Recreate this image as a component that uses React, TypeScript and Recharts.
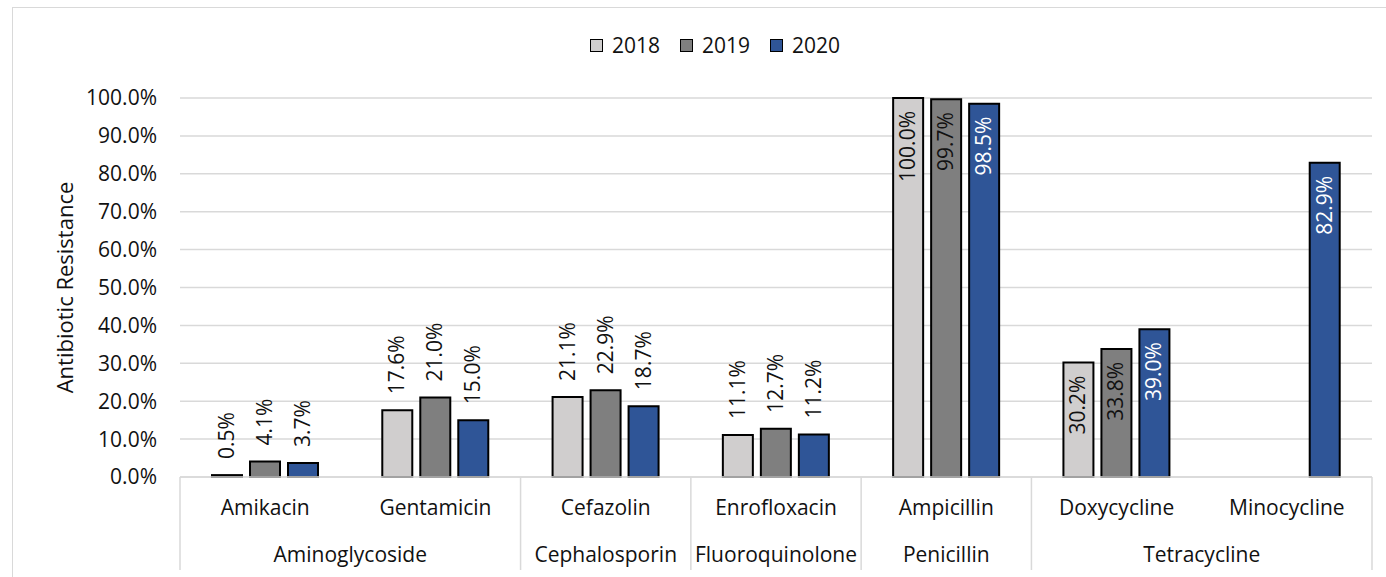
import React from 'react';
import { BarChart, Bar, XAxis, YAxis, CartesianGrid, Legend, LabelList } from 'recharts';

const drugs = ['Amikacin', 'Gentamicin', 'Cefazolin', 'Enrofloxacin', 'Ampicillin', 'Doxycycline', 'Minocycline'];
const classes = ['Aminoglycoside', 'Aminoglycoside', 'Cephalosporin', 'Fluoroquinolone', 'Penicillin', 'Tetracycline', 'Tetracycline'];
const y2018: (number | null)[] = [0.5, 17.6, 21.1, 11.1, 100.0, 30.2, null];
const y2019: (number | null)[] = [4.1, 21.0, 22.9, 12.7, 99.7, 33.8, null];
const y2020: (number | null)[] = [3.7, 15.0, 18.7, 11.2, 98.5, 39.0, 82.9];
const yTicks = [0, 10, 20, 30, 40, 50, 60, 70, 80, 90, 100];
const seriesNames = ['2018', '2019', '2020'];
const seriesColors = ['#D0CECE', '#7F7F7F', '#2F5597'];

const data = drugs.map((d, i) => ({ drug: d, cls: classes[i], y2018: y2018[i], y2019: y2019[i], y2020: y2020[i] }));

const FONT = '"Open Sans", sans-serif';
const FS = 21;
const CHART_W = 1386;
const CHART_H = 577;
const MARGIN = { top: 68, right: 14, bottom: 0, left: 12 };
const Y_W = 168;
const PLOT_W = CHART_W - MARGIN.left - MARGIN.right - Y_W;
const BAND = PLOT_W / drugs.length;
const GRID = '#D9D9D9';

const CategoryTick = (props: any) => {
  const { x, y, payload } = props;
  const i: number = payload.index;
  const half = BAND / 2;
  const left = x - half;
  const right = x + half;
  const cls = classes[i];
  const isFirst = i === 0 || classes[i - 1] !== cls;
  const isLast = i === classes.length - 1 || classes[i + 1] !== cls;
  const count = classes.filter((c) => c === cls).length;
  return (
    <g>
      <text x={x} y={y + 38} textAnchor="middle" fontFamily={FONT} fontSize={FS} fill="#111">{payload.value}</text>
      {i === 0 && <line x1={left} x2={left} y1={y} y2={y + 93} stroke={GRID} strokeWidth={1.5} />}
      {isLast && <line x1={right} x2={right} y1={y} y2={y + 93} stroke={GRID} strokeWidth={1.5} />}
      {isFirst && (
        <text x={left + (count * BAND) / 2} y={y + 85} textAnchor="middle" fontFamily={FONT} fontSize={FS} fill="#111">{cls}</text>
      )}
    </g>
  );
};

const makeLabel = (insideColor: string) => (props: any) => {
  const { x, y, width, value } = props;
  if (value === null || value === undefined) return null;
  const cx = x + width / 2 + 7;
  const txt = `${Number(value).toFixed(1)}%`;
  const inside = value >= 30;
  const ty = inside ? y + 13 : y - 16;
  return (
    <text
      x={cx}
      y={ty}
      transform={`rotate(-90 ${cx} ${ty})`}
      textAnchor={inside ? 'end' : 'start'}
      fontFamily={FONT}
      fontSize={FS}
      fill={inside ? insideColor : '#111'}
    >
      {txt}
    </text>
  );
};

const LegendContent = () => (
  <div style={{ display: 'flex', justifyContent: 'center', alignItems: 'center', height: 30, fontFamily: FONT, fontSize: FS, color: '#111', paddingLeft: 64 }}>
    {seriesNames.map((n, i) => (
      <div key={n} style={{ display: 'flex', alignItems: 'center', marginRight: 20 }}>
        <span style={{ display: 'inline-block', width: 11, height: 11, background: seriesColors[i], border: '1.5px solid #000', marginRight: 9 }} />
        <span>{n}</span>
      </div>
    ))}
  </div>
);

const YLabel = (props: any) => {
  const { viewBox } = props;
  const cx = 64;
  const cy = viewBox.y + viewBox.height / 2;
  return (
    <text x={cx} y={cy} transform={`rotate(-90 ${cx} ${cy})`} textAnchor="middle" dominantBaseline="central" fontFamily={FONT} fontSize={22} fill="#111">
      Antibiotic Resistance
    </text>
  );
};

export default function App() {
  return (
    <div style={{ position: 'absolute', left: 0, top: 0, width: CHART_W, height: CHART_H, background: '#fff', overflow: 'hidden' }}>
      <div style={{ position: 'absolute', left: 12, top: 7, width: CHART_W - 12, height: CHART_H - 7, borderLeft: `1.5px solid ${GRID}`, borderTop: `1.5px solid ${GRID}`, boxSizing: 'border-box' }} />
      <div style={{ position: 'absolute', left: 0, top: 0 }}>
        <BarChart width={CHART_W} height={CHART_H} data={data} margin={MARGIN} barSize={30} barGap={8}>
          <CartesianGrid vertical={false} stroke={GRID} strokeWidth={1.5} />
          <XAxis
            dataKey="drug"
            interval={0}
            height={100}
            tickLine={false}
            tickSize={0}
            tickMargin={0}
            axisLine={{ stroke: GRID, strokeWidth: 1.5 }}
            tick={<CategoryTick />}
          />
          <YAxis
            width={Y_W}
            domain={[0, 100]}
            ticks={yTicks}
            interval={0}
            axisLine={false}
            tickLine={false}
            tickSize={6}
            tickMargin={17}
            tickFormatter={(v: number) => `${v.toFixed(1)}%`}
            tick={{ fontFamily: FONT, fontSize: FS, fill: '#111' }}
            label={<YLabel />}
          />
          <Legend verticalAlign="top" wrapperStyle={{ top: 30, left: 0, width: CHART_W }} content={<LegendContent />} />
          <Bar dataKey="y2018" name="2018" fill={seriesColors[0]} stroke="#000" strokeWidth={2} isAnimationActive={false}>
            <LabelList dataKey="y2018" content={makeLabel('#111')} />
          </Bar>
          <Bar dataKey="y2019" name="2019" fill={seriesColors[1]} stroke="#000" strokeWidth={2} isAnimationActive={false}>
            <LabelList dataKey="y2019" content={makeLabel('#111')} />
          </Bar>
          <Bar dataKey="y2020" name="2020" fill={seriesColors[2]} stroke="#000" strokeWidth={2} isAnimationActive={false}>
            <LabelList dataKey="y2020" content={makeLabel('#fff')} />
          </Bar>
        </BarChart>
      </div>
    </div>
  );
}
